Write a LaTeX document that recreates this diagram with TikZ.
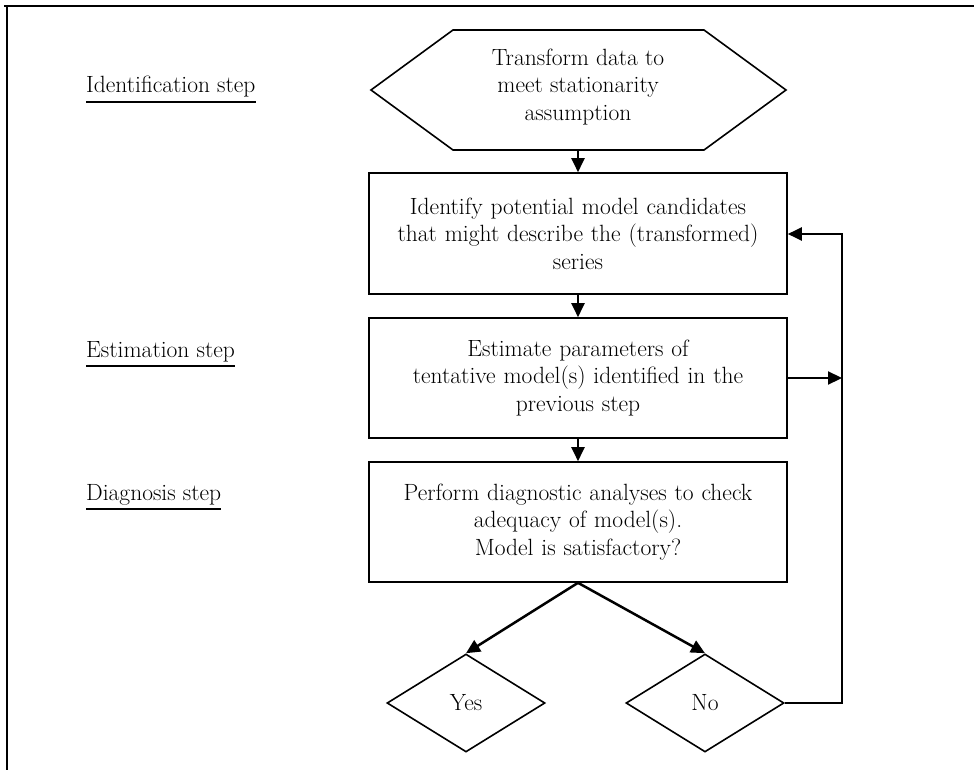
\documentclass[tikz,border=0pt]{standalone}
\usepackage{fontspec}
\usepackage{tikz}
\usetikzlibrary{arrows.meta,shapes.geometric}

\newcommand{\boxfont}{\fontsize{23.5}{27.5}\selectfont}

\tikzset{
	box/.style={draw, line width=1.6pt, minimum width=418pt, minimum height=120pt,
		text width=414pt, align=center, inner sep=0pt, font=\boxfont},
	decision/.style={draw, diamond, aspect=1.6, line width=1.6pt, minimum width=158pt,
		minimum height=98pt, inner sep=0pt, font=\boxfont},
	hexatext/.style={align=center, inner sep=0pt, font=\boxfont},
	steplab/.style={anchor=base west, inner sep=0pt, font=\boxfont},
	flow/.style={line width=2.2pt, -{Triangle[length=14pt,width=13pt]}},
	frameline/.style={line width=2pt},
}

\begin{document}
\begin{tikzpicture}[x=1pt,y=-1pt]
		\useasboundingbox (0,0) rectangle (974,770);
		\draw[frameline] (4,6) -- (974,6);
		\draw[frameline] (7,6) -- (7,770);
		%
		\node[steplab] (idlab) at (86,93) {Identification step};
		\node[steplab] (eslab) at (86,357) {Estimation step};
		\node[steplab] (dglab) at (86,500) {Diagnosis step};
		\foreach \lab in {idlab,eslab,dglab}
			\draw[line width=1.8pt] ([yshift=-9pt]\lab.base west) -- ([yshift=-9pt]\lab.base east);
		%
		\node[hexatext] (trans) at (578,87) {Transform data to\\meet stationarity\\assumption};
		\draw[line width=1.6pt] (371,90) -- ++(82,-60) -- ++(251,0)
			-- ++(82,60) -- ++(-82,60) -- ++(-251,0) -- cycle;
		\coordinate (transS) at (578,150);
		%
		\node[box, minimum height=121pt] (ident) at (578,233.5)
			{Identify potential model candidates\\that might describe the (transformed)\\series};
		\node[box] (estim) at (578,378)
			{Estimate parameters of\\tentative model(s) identified in the\\previous step};
		\node[box] (diag) at (578,522)
			{Perform diagnostic analyses to check\\adequacy of model(s).\\Model is satisfactory?};
		\node[decision] (yes) at (466,703) {Yes};
		\node[decision] (no) at (705,703) {No};
		%
		\coordinate (backB) at (842,703);
		\coordinate (backT) at (842,234);
		%
		\path[flow]
			(transS) edge (ident.north)
			(ident) edge (estim)
			(estim) edge (diag)
			(diag.south) edge[line width=2.5pt] (yes.north)
			(diag.south) edge[line width=2.5pt] (no.north)
			(estim.east) edge (estim.east -| backT);
		\draw[flow] (no.east) -- (backB) -- (backT) -- (backT -| ident.east);
	\end{tikzpicture}
\end{document}
